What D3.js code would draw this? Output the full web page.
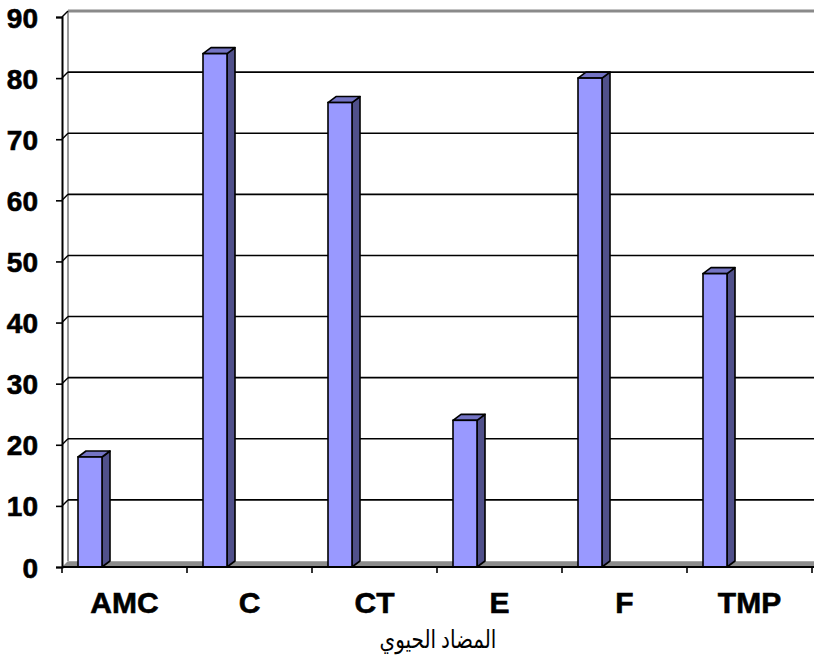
<!DOCTYPE html>
<html>
<head>
<meta charset="utf-8">
<script src="https://cdn.jsdelivr.net/npm/d3@7/dist/d3.min.js"></script>
<style>
  html, body { margin: 0; padding: 0; background: #fff; }
  svg { display: block; }
</style>
</head>
<body>
<svg id="chart" width="814" height="669"></svg>
<script>
// Antibiotic resistance percentages per antibiotic
const categories = ["AMC", "C", "CT", "E", "F", "TMP"];
const values = [18, 84, 76, 24, 80, 48];
const yTicks = [0, 10, 20, 30, 40, 50, 60, 70, 80, 90];
const xTitle = "المضاد الحيوي";

const svg = d3.select("#chart");
const W = 814;

const x = d3.scaleBand().domain(categories).range([62, 812]).padding(0);
const y = d3.scaleLinear().domain([0, 90]).range([567, 17]);

// depth offsets of the 3D wall and of each column
const wallDx = 6, wallDy = -6;
const barDx = 8, barDy = -6;

const g = svg.append("g");

// floor
const y0 = y(0);
g.append("polygon")
  .attr("points", [[x.range()[0], y0], [x.range()[0] + wallDx, y0 + wallDy], [W, y0 + wallDy], [W, y0]].join(" "))
  .attr("fill", "#8c8c8c");
g.append("line")
  .attr("x1", x.range()[0] + wallDx).attr("x2", W)
  .attr("y1", y0 + wallDy + 0.5).attr("y2", y0 + wallDy + 0.5)
  .attr("stroke", "#a8a8a8").attr("stroke-width", 1);

// back wall left edge and top border
g.append("line")
  .attr("x1", x.range()[0] + wallDx).attr("x2", x.range()[0] + wallDx)
  .attr("y1", y(90) + wallDy).attr("y2", y0 + wallDy)
  .attr("stroke", "#9a9a9a").attr("stroke-width", 2);
g.append("line")
  .attr("x1", x.range()[0] + wallDx).attr("x2", W)
  .attr("y1", y(90) + wallDy).attr("y2", y(90) + wallDy)
  .attr("stroke", "#8a8a8a").attr("stroke-width", 3);

// gridlines on back wall + diagonal side-wall lines
yTicks.filter(t => t > 0 && t < 90).forEach(t => {
  g.append("line")
    .attr("x1", x.range()[0] + wallDx).attr("x2", W)
    .attr("y1", y(t) + wallDy).attr("y2", y(t) + wallDy)
    .attr("stroke", "#000").attr("stroke-width", 1.6);
});
yTicks.filter(t => t > 0).forEach(t => {
  g.append("line")
    .attr("x1", x.range()[0]).attr("x2", x.range()[0] + wallDx)
    .attr("y1", y(t)).attr("y2", y(t) + wallDy)
    .attr("stroke", "#000").attr("stroke-width", 1.4);
});

// columns
const bw = x.bandwidth();
const off = bw * 0.128, fw = bw * 0.192;
const bars = g.selectAll("g.bar").data(categories.map((c, i) => ({ c, v: values[i] })))
  .enter().append("g").attr("class", "bar");

bars.append("polygon") // side face
  .attr("points", d => {
    const xl = x(d.c) + off + fw, yt = y(d.v);
    return [[xl, yt], [xl + barDx, yt + barDy], [xl + barDx, y0 + barDy], [xl, y0]].join(" ");
  })
  .attr("fill", "#50508a").attr("stroke", "#000").attr("stroke-width", 1.6).attr("stroke-linejoin", "round");
bars.append("polygon") // top face
  .attr("points", d => {
    const xl = x(d.c) + off, yt = y(d.v);
    return [[xl, yt], [xl + barDx, yt + barDy], [xl + fw + barDx, yt + barDy], [xl + fw, yt]].join(" ");
  })
  .attr("fill", "#7474c4").attr("stroke", "#000").attr("stroke-width", 1.6).attr("stroke-linejoin", "round");
bars.append("rect") // front face
  .attr("x", d => x(d.c) + off)
  .attr("y", d => y(d.v))
  .attr("width", fw)
  .attr("height", d => y0 - y(d.v))
  .attr("fill", "#9999ff").attr("stroke", "#000").attr("stroke-width", 1.6);

// value axis
const yAxis = svg.append("g")
  .attr("transform", `translate(${x.range()[0]},0)`)
  .call(d3.axisLeft(y).tickValues(yTicks).tickFormat(d3.format("d")).tickSize(6).tickPadding(18));
yAxis.select(".domain").attr("stroke", "#000").attr("stroke-width", 2);
yAxis.selectAll(".tick line").attr("stroke", "#000").attr("stroke-width", 1.6);
yAxis.selectAll("text")
  .attr("fill", "#000")
  .attr("stroke", "#000").attr("stroke-width", 0.6)
  .attr("dy", "0.36em")
  .style("font-family", "'Liberation Sans', Arial, sans-serif")
  .style("font-weight", "bold")
  .style("font-size", "28px");

// category axis
g.append("line")
  .attr("x1", x.range()[0]).attr("x2", W)
  .attr("y1", y0).attr("y2", y0)
  .attr("stroke", "#000").attr("stroke-width", 2);
categories.concat([null]).forEach((c, i) => {
  const xx = x.range()[0] + i * bw;
  g.append("line")
    .attr("x1", xx).attr("x2", xx)
    .attr("y1", y0).attr("y2", y0 + 6)
    .attr("stroke", "#000").attr("stroke-width", 1.6);
});
const xAxis = svg.append("g")
  .attr("transform", `translate(0,${y0})`)
  .call(d3.axisBottom(x).tickSize(0).tickPadding(0));
xAxis.select(".domain").remove();
xAxis.selectAll("text")
  .attr("fill", "#000")
  .attr("stroke", "#000").attr("stroke-width", 0.6)
  .attr("y", 46).attr("dy", 0)
  .style("font-family", "'Liberation Sans', Arial, sans-serif")
  .style("font-weight", "bold")
  .style("font-size", "30px");

// axis title
svg.append("text")
  .attr("transform", "translate(438,648) scale(0.95,1.2)")
  .attr("text-anchor", "middle")
  .attr("direction", "rtl")
  .style("font-family", "'Liberation Serif', 'DejaVu Sans', serif")
  .style("font-size", "21px")
  .attr("fill", "#000")
  .text(xTitle);
</script>
</body>
</html>
